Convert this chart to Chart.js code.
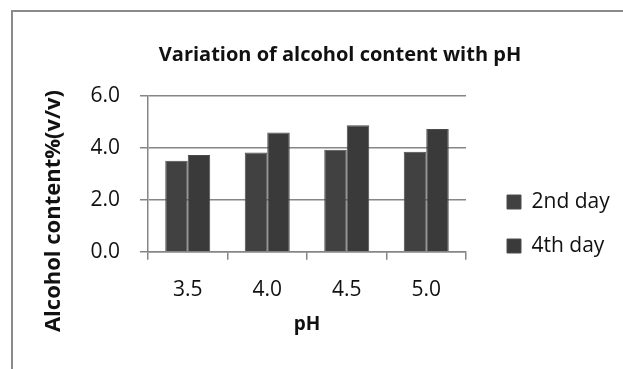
<!DOCTYPE html>
<html>
<head>
<meta charset="utf-8">
<script src="https://cdn.jsdelivr.net/npm/chart.js@4"></script>
<style>
  html, body { margin: 0; padding: 0; background: #fff; }
  #wrap { width: 623px; height: 369px; }
</style>
</head>
<body>
<div id="wrap"><canvas id="chart" width="623" height="369"></canvas></div>
<script>
// data
const phLevels = ['3.5', '4.0', '4.5', '5.0'];
const day2 = [3.5, 3.82, 3.92, 3.84];
const day4 = [3.72, 4.58, 4.86, 4.72];
const yTicks = [0, 2, 4, 6];

const GRID = '#868686';
const TEXT = '#111';
const FONT = "'Open Sans', 'Noto Sans', sans-serif";

// outer frame, cut off at the right and bottom like the original
const framePlugin = {
    id: 'frame',
    beforeDraw(chart) {
        const ctx = chart.ctx;
        ctx.save();
        ctx.strokeStyle = '#8a8a8a';
        ctx.lineWidth = 2;
        ctx.beginPath();
        ctx.moveTo(12, 369);
        ctx.lineTo(12, 11);
        ctx.lineTo(623, 11);
        ctx.stroke();
        ctx.restore();
    }
};

// y axis title sits lower than the axis centre in the original
const yTitlePlugin = {
    id: 'yTitle',
    afterDraw(chart) {
        const ctx = chart.ctx;
        ctx.save();
        ctx.translate(54, 211);
        ctx.rotate(-Math.PI / 2);
        ctx.font = 'bold 22px ' + FONT;
        ctx.fillStyle = TEXT;
        ctx.textAlign = 'center';
        ctx.textBaseline = 'middle';
        ctx.fillText('Alcohol content%(v/v)', 0, 0);
        ctx.restore();
    }
};

// legend to the right, lower than centre; title centred on the whole frame
const placeBoxes = {
    id: 'placeBoxes',
    afterLayout(chart) {
        const lg = chart.legend;
        const pad = lg.options.labels.padding;
        lg.left = 507 - pad;
        lg.right = 623;
        lg.top = 202 - pad - 10.5;
        lg.bottom = lg.top + 200;
        lg.width = lg.right - lg.left;
        lg.height = 200;

        const tb = chart.titleBlock;
        tb.left = 140;
        tb.right = 540;
        tb.width = 400;
    }
};

new Chart(document.getElementById('chart'), {
    type: 'bar',
    data: {
        labels: phLevels,
        datasets: [
            { label: '2nd day', data: day2, backgroundColor: '#414141', borderColor: '#4c4c4c', borderWidth: 1 },
            { label: '4th day', data: day4, backgroundColor: '#3a3a3a', borderColor: '#4c4c4c', borderWidth: 1 }
        ]
    },
    options: {
        responsive: false,
        animation: false,
        layout: { padding: { left: 80, right: 157, top: 30, bottom: 28.6 } },
        datasets: { bar: { categoryPercentage: 0.566, barPercentage: 1.0 } },
        plugins: {
            title: {
                display: true,
                text: 'Variation of alcohol content with pH',
                color: TEXT,
                font: { family: FONT, size: 20, weight: 'bold' },
                padding: { top: 13, bottom: 28.7 }
            },
            legend: {
                position: 'chartArea',
                fullSize: false,
                align: 'start',
                labels: {
                    color: TEXT,
                    font: { family: FONT, size: 21 },
                    boxWidth: 14,
                    boxHeight: 14,
                    padding: 23
                }
            },
            tooltip: { enabled: false }
        },
        scales: {
            x: {
                afterFit(scale) { scale.height = 88.7; },
                grid: { display: true, drawOnChartArea: false, drawTicks: true, tickLength: 8, color: GRID, lineWidth: 1.5 },
                border: { display: true, color: GRID, width: 1.5 },
                ticks: { color: TEXT, font: { family: FONT, size: 21 }, padding: 18 },
                title: {
                    display: true,
                    text: 'pH',
                    color: TEXT,
                    font: { family: FONT, size: 19, weight: 'bold' },
                    padding: { top: 13, bottom: 4 }
                }
            },
            y: {
                min: yTicks[0],
                max: yTicks[yTicks.length - 1],
                afterFit(scale) { scale.width = 68; },
                afterBuildTicks(scale) { scale.ticks = yTicks.map(v => ({ value: v })); },
                grid: { color: GRID, lineWidth: 1.5, tickLength: 8 },
                border: { display: true, color: GRID, width: 1.5 },
                ticks: {
                    color: TEXT,
                    font: { family: FONT, size: 21 },
                    padding: 20,
                    callback: v => Number(v).toFixed(1)
                }
            }
        }
    },
    plugins: [framePlugin, yTitlePlugin, placeBoxes]
});
</script>
</body>
</html>
